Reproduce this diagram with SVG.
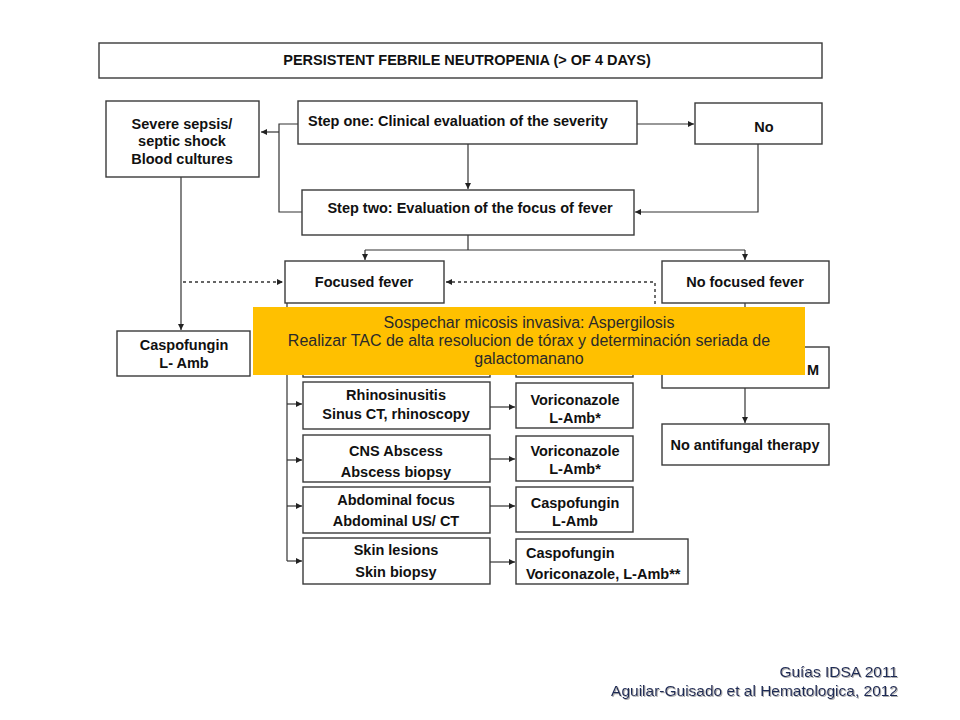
<svg xmlns="http://www.w3.org/2000/svg" width="960" height="720" viewBox="0 0 960 720">
<defs>
<style>
.box{fill:#fff;stroke:#3a3a3a;stroke-width:1.4}
.t{font-family:"Liberation Sans Narrow","Liberation Sans",Arial,sans-serif;font-weight:bold;font-size:14.5px;fill:#111;text-anchor:middle}
.ln{fill:none;stroke:#333;stroke-width:1.2}
.dash{fill:none;stroke:#333;stroke-width:1.4;stroke-dasharray:3 3}
.ov{font-family:"Liberation Sans",Arial,sans-serif;font-size:16px;fill:#2a2a2a;text-anchor:middle}
.ft{font-family:"Liberation Sans",Arial,sans-serif;font-size:15.5px;fill:#1f2a55;text-anchor:end}
</style>
<marker id="ar" viewBox="0 0 8 8" refX="8" refY="4" markerWidth="6" markerHeight="6" orient="auto" markerUnits="userSpaceOnUse">
<path d="M0,0 L8,4 L0,8 z" fill="#222"/>
</marker>
<filter id="sh" x="-5%" y="-20%" width="110%" height="140%">
<feDropShadow dx="1" dy="1" stdDeviation="0.6" flood-color="#999" flood-opacity="0.8"/>
</filter>
</defs>
<rect width="960" height="720" fill="#fff"/>

<g id="connectors">
<path class="ln" d="M298,124 H279 V212 H302"/>
<path class="ln" d="M279,132 H261" marker-end="url(#ar)"/>
<path class="ln" d="M637,124 H694" marker-end="url(#ar)"/>
<path class="ln" d="M468,144 V189" marker-end="url(#ar)"/>
<path class="ln" d="M758,144 V212 H635" marker-end="url(#ar)"/>
<path class="ln" d="M468,235 V250 M365,250 H745"/>
<path class="ln" d="M365,250 V260" marker-end="url(#ar)"/>
<path class="ln" d="M745,250 V260" marker-end="url(#ar)"/>
<path class="ln" d="M181,177 V330" marker-end="url(#ar)"/>
<path class="dash" d="M183,282 H283" marker-end="url(#ar)"/>
<path class="dash" d="M655,310 V282 H446" marker-end="url(#ar)"/>
<path class="ln" d="M287,303 V561"/>
<path class="ln" d="M287,355 H302" marker-end="url(#ar)"/>
<path class="ln" d="M287,404 H302" marker-end="url(#ar)"/>
<path class="ln" d="M287,460 H302" marker-end="url(#ar)"/>
<path class="ln" d="M287,506 H302" marker-end="url(#ar)"/>
<path class="ln" d="M287,561 H302" marker-end="url(#ar)"/>
<path class="ln" d="M490,355 H515" marker-end="url(#ar)"/>
<path class="ln" d="M490,407 H515" marker-end="url(#ar)"/>
<path class="ln" d="M490,459 H515" marker-end="url(#ar)"/>
<path class="ln" d="M490,506 H515" marker-end="url(#ar)"/>
<path class="ln" d="M490,562 H515" marker-end="url(#ar)"/>
<path class="ln" d="M745,303 V346" marker-end="url(#ar)"/>
<path class="ln" d="M745,388 V423" marker-end="url(#ar)"/>
</g>

<g id="title"><rect class="box" x="99" y="43" width="723" height="35"/>
<text class="t" x="467" y="65">PERSISTENT FEBRILE NEUTROPENIA (&gt; OF 4 DAYS)</text></g>

<g id="sepsis"><rect class="box" x="106" y="101" width="153" height="76"/>
<text class="t" x="182" y="129">Severe sepsis/</text>
<text class="t" x="182" y="146">septic shock</text>
<text class="t" x="182" y="164">Blood cultures</text></g>

<g id="step1"><rect class="box" x="298" y="101" width="339" height="43"/>
<text class="t" x="308" y="126" style="text-anchor:start">Step one: Clinical evaluation of the severity</text></g>

<g id="no"><rect class="box" x="695" y="103" width="127" height="41"/>
<text class="t" x="764" y="132">No</text></g>

<g id="step2"><rect class="box" x="302" y="190" width="332" height="45"/>
<text class="t" x="470" y="213">Step two: Evaluation of the focus of fever</text></g>

<g id="focused"><rect class="box" x="285" y="261" width="159" height="42"/>
<text class="t" x="364" y="287">Focused fever</text></g>

<g id="nofocused"><rect class="box" x="662" y="261" width="167" height="42"/>
<text class="t" x="745" y="287">No focused fever</text></g>

<g id="caspo1"><rect class="box" x="117" y="331" width="133" height="45"/>
<text class="t" x="184" y="350">Caspofungin</text>
<text class="t" x="184" y="368">L- Amb</text></g>

<g id="pulm"><rect class="box" x="303" y="333" width="187" height="44"/></g>
<g id="pulmtx"><rect class="box" x="516" y="333" width="117" height="44"/></g>
<g id="micro"><rect class="box" x="662" y="347" width="167" height="41"/>
<text class="t" x="819" y="375" style="text-anchor:end">M</text></g>

<g id="rhino"><rect class="box" x="303" y="382" width="187" height="47"/>
<text class="t" x="396" y="400">Rhinosinusitis</text>
<text class="t" x="396" y="419">Sinus CT, rhinoscopy</text></g>
<g id="rhinotx"><rect class="box" x="516" y="383" width="117" height="45"/>
<text class="t" x="575" y="405">Voriconazole</text>
<text class="t" x="575" y="423">L-Amb*</text></g>

<g id="cns"><rect class="box" x="303" y="435" width="187" height="47"/>
<text class="t" x="396" y="456">CNS Abscess</text>
<text class="t" x="396" y="477">Abscess biopsy</text></g>
<g id="cnstx"><rect class="box" x="516" y="436" width="117" height="45"/>
<text class="t" x="575" y="456">Voriconazole</text>
<text class="t" x="575" y="474">L-Amb*</text></g>

<g id="abd"><rect class="box" x="303" y="487" width="187" height="46"/>
<text class="t" x="396" y="505">Abdominal focus</text>
<text class="t" x="396" y="526">Abdominal US/ CT</text></g>
<g id="abdtx"><rect class="box" x="516" y="487" width="117" height="45"/>
<text class="t" x="575" y="508">Caspofungin</text>
<text class="t" x="575" y="526">L-Amb</text></g>

<g id="skin"><rect class="box" x="303" y="538" width="187" height="46"/>
<text class="t" x="396" y="555">Skin lesions</text>
<text class="t" x="396" y="577">Skin biopsy</text></g>
<g id="skintx"><rect class="box" x="516" y="539" width="172" height="45"/>
<text class="t" x="526" y="558" style="text-anchor:start">Caspofungin</text>
<text class="t" x="526" y="579" style="text-anchor:start">Voriconazole, L-Amb**</text></g>

<g id="noanti"><rect class="box" x="662" y="424" width="167" height="41"/>
<text class="t" x="745" y="450">No antifungal therapy</text></g>

<g id="overlay"><rect x="253" y="307" width="552" height="68" fill="#ffc000"/>
<text class="ov" x="529" y="328">Sospechar micosis invasiva: Aspergilosis</text>
<text class="ov" x="529" y="346">Realizar TAC de alta resolucion de tórax y determinación seriada de</text>
<text class="ov" x="529" y="364">galactomanano</text></g>

<g id="footer" filter="url(#sh)">
<text class="ft" x="898" y="677">Guías IDSA 2011</text>
<text class="ft" x="898" y="696">Aguilar-Guisado et al Hematologica, 2012</text></g>
</svg>
